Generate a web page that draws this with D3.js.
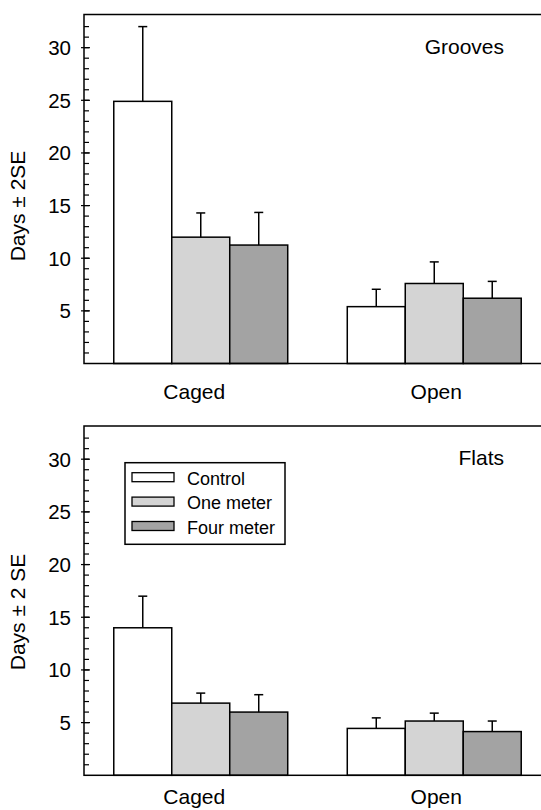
<!DOCTYPE html>
<html>
<head>
<meta charset="utf-8">
<script src="https://cdn.jsdelivr.net/npm/d3@7"></script>
<style>
  html, body { margin: 0; padding: 0; background: #fff; }
  svg { display: block; font-family: "Liberation Sans", Arial, Helvetica, sans-serif; }
</style>
</head>
<body>
<script>
// ---- Data ----
const categories = ["Caged", "Open"];
const series = ["Control", "One meter", "Four meter"];
const seriesColors = ["#ffffff", "#d4d4d4", "#a3a3a3"];
// rows = categories, columns = series
const groovesMeans = [[24.9, 12.0, 11.25], [5.4, 7.6, 6.2]];
const groovesErr   = [[7.1, 2.3, 3.1], [1.65, 2.05, 1.6]];
const flatsMeans   = [[14.0, 6.85, 6.0], [4.45, 5.15, 4.15]];
const flatsErr     = [[3.0, 0.95, 1.65], [1.0, 0.75, 1.0]];
const majorTicks = [5, 10, 15, 20, 25, 30];
const minorTicks = d3.range(1, 33);

// ---- Layout ----
const W = 541, H = 810;
const labelShift = [-6.5, 2];
const svg = d3.select("body").append("svg").attr("width", W).attr("height", H);

function panel(cfg) {
  const left = 84, right = 551;
  const y = d3.scaleLinear().domain([0, 33.15]).range([cfg.bottom, cfg.top]);
  const x0 = d3.scaleBand().domain(categories).range([left, right])
    .paddingInner(0.255).paddingOuter(0.1275);
  const x1 = d3.scaleBand().domain(series).range([0, x0.bandwidth()]);
  const g = svg.append("g");

  // bars
  categories.forEach((c, ci) => {
    series.forEach((s, si) => {
      const m = cfg.means[ci][si], e = cfg.err[ci][si];
      const bx = x0(c) + x1(s), bw = x1.bandwidth();
      g.append("rect")
        .attr("x", bx).attr("y", y(m))
        .attr("width", bw).attr("height", y(0) - y(m))
        .attr("fill", seriesColors[si]).attr("stroke", "#000").attr("stroke-width", 1.5);
      const cx = bx + bw / 2;
      g.append("line").attr("x1", cx).attr("x2", cx).attr("y1", y(m)).attr("y2", y(m + e))
        .attr("stroke", "#000").attr("stroke-width", 1.5);
      g.append("line").attr("x1", cx - 4.5).attr("x2", cx + 4.5).attr("y1", y(m + e)).attr("y2", y(m + e))
        .attr("stroke", "#000").attr("stroke-width", 1.5);
    });
  });

  // frame
  g.append("rect").attr("x", left).attr("y", cfg.top)
    .attr("width", right - left).attr("height", cfg.bottom - cfg.top)
    .attr("fill", "none").attr("stroke", "#000").attr("stroke-width", 1.5);

  // ticks
  minorTicks.forEach(t => {
    g.append("line").attr("x1", left).attr("x2", left + 5).attr("y1", y(t)).attr("y2", y(t))
      .attr("stroke", "#000").attr("stroke-width", 1.2);
  });
  majorTicks.forEach(t => {
    g.append("line").attr("x1", left - 3).attr("x2", left + 6).attr("y1", y(t)).attr("y2", y(t))
      .attr("stroke", "#000").attr("stroke-width", 1.2);
    g.append("text").attr("x", 71).attr("y", y(t)).attr("dy", "0.36em")
      .attr("text-anchor", "end").attr("font-size", 20.5).text(t);
  });

  // category labels
  categories.forEach((c, ci) => {
    g.append("text").attr("x", x0(c) + x0.bandwidth() / 2 + labelShift[ci]).attr("y", cfg.catBaseline)
      .attr("text-anchor", "middle").attr("font-size", 21).text(c);
  });

  // title
  g.append("text").attr("x", 504).attr("y", cfg.top + 39)
    .attr("text-anchor", "end").attr("font-size", 21).text(cfg.title);

  // y label
  g.append("text").attr("transform", `translate(25,${cfg.ylabelCenter}) rotate(-90)`)
    .attr("text-anchor", "middle").attr("font-size", 21).text(cfg.ylabel);
}

panel({ top: 14.5, bottom: 363.5, means: groovesMeans, err: groovesErr,
        title: "Grooves", ylabel: "Days \u00b1 2SE", ylabelCenter: 206, catBaseline: 399 });
panel({ top: 426, bottom: 775.3, means: flatsMeans, err: flatsErr,
        title: "Flats", ylabel: "Days \u00b1 2 SE", ylabelCenter: 612, catBaseline: 804 });

// legend (bottom panel)
const lg = svg.append("g");
lg.append("rect").attr("x", 125).attr("y", 462.7).attr("width", 160).attr("height", 81.6)
  .attr("fill", "#fff").attr("stroke", "#000").attr("stroke-width", 1.5);
series.forEach((s, i) => {
  const cy = 477.2 + i * 24.4;
  lg.append("rect").attr("x", 132).attr("y", cy - 4.5).attr("width", 42).attr("height", 9)
    .attr("fill", seriesColors[i]).attr("stroke", "#000").attr("stroke-width", 1.3);
  lg.append("text").attr("x", 187).attr("y", cy + 7.5).attr("font-size", 18).text(s);
});
</script>
</body>
</html>
